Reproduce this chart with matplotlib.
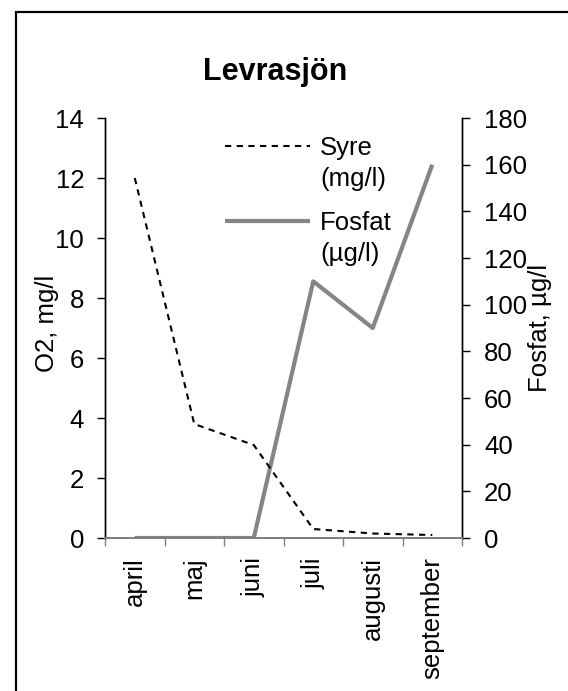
import numpy as np
import matplotlib
matplotlib.use("Agg")
import matplotlib.pyplot as plt
from matplotlib.patches import Rectangle
from matplotlib.legend_handler import HandlerLine2D

plt.rcParams["font.family"] = ["Liberation Sans", "DejaVu Sans"]

months = ["april", "maj", "juni", "juli", "augusti", "september"]
syre = [12.0, 3.8, 3.1, 0.3, 0.15, 0.1]        # mg/l
fosfat = [0, 0, 0, 110, 90, 160]              # µg/l
o2_ticks = [0, 2, 4, 6, 8, 10, 12, 14]
p_ticks = [0, 20, 40, 60, 80, 100, 120, 140, 160, 180]


class FirstLineHandler(HandlerLine2D):
    # put the legend sample next to the first line of a two-line label
    def create_artists(self, legend, orig_handle, xdescent, ydescent,
                       width, height, fontsize, trans):
        artists = super().create_artists(legend, orig_handle, xdescent, ydescent,
                                         width, height, fontsize, trans)
        for a in artists:
            a.set_ydata(np.asarray(a.get_ydata()) + 0.7 * fontsize)
        return artists


fig = plt.figure(figsize=(5.68, 6.91), dpi=100, facecolor="white")
ax = fig.add_axes([0.1849, 0.2214, 0.6285, 0.6078])
ax2 = ax.twinx()

x = np.arange(len(months))
l2, = ax2.plot(x, fosfat, color="#858585", lw=3.0, solid_capstyle="butt",
               label="Fosfat\n(µg/l)", zorder=3)
l1, = ax.plot(x, syre, color="black", lw=1.5, dashes=(3.0, 2.6),
              label="Syre\n(mg/l)", zorder=4)
ax.set_zorder(ax2.get_zorder() + 1)
ax.patch.set_visible(False)

ax.set_xlim(-0.5, len(months) - 0.5)
ax.set_ylim(0, 14)
ax2.set_ylim(0, 180)
ax.set_yticks(o2_ticks)
ax2.set_yticks(p_ticks)

ax.set_xticks(x)
ax.set_xticklabels(months, rotation=90, va="top", ha="center")
ax.set_xticks(np.arange(-0.5, len(months)), minor=True)
ax.tick_params(axis="x", which="major", length=0, pad=14, labelsize=18.5)
ax.tick_params(axis="x", which="minor", length=6, width=1, color="#808080")
ax.tick_params(axis="y", length=6, width=1, pad=9, labelsize=18.5, direction="out")
ax2.tick_params(axis="y", length=6, width=1, pad=10, labelsize=18.5, direction="out")

for a in (ax, ax2):
    a.spines["top"].set_visible(False)
    a.spines["bottom"].set_color("#808080")
    a.spines["bottom"].set_linewidth(1.4)
    a.spines["left"].set_linewidth(1)
    a.spines["right"].set_linewidth(1)

ax.set_ylabel("O2, mg/l", fontsize=18.5)
ax.yaxis.set_label_coords(-0.13, 0.51)
ax2.set_ylabel("Fosfat, µg/l", fontsize=18.5)
ax2.yaxis.set_label_coords(1.185, 0.5)

leg = ax.legend(handles=[l1, l2], loc="upper left",
                bbox_to_anchor=(0.336, 0.958), frameon=False, fontsize=18.5,
                borderpad=0, borderaxespad=0, handlelength=3.3,
                handletextpad=0.4, labelspacing=0.75,
                handler_map={l1: FirstLineHandler(), l2: FirstLineHandler()})
for t in leg.get_texts():
    t.set_linespacing(1.4)

fig.text(275 / 568, 1 - 80 / 691, "Levrasjön", fontsize=22, fontweight="bold",
         ha="center", va="baseline")

# chart area border (cropped on right/bottom)
fig.add_artist(Rectangle((16 / 568, -0.1), 1.2, 1 - 12 / 691 + 0.1,
                         transform=fig.transFigure, fill=False,
                         edgecolor="black", lw=1.6))

plt.savefig("out.png", dpi=100, facecolor="white")
plt.close()
